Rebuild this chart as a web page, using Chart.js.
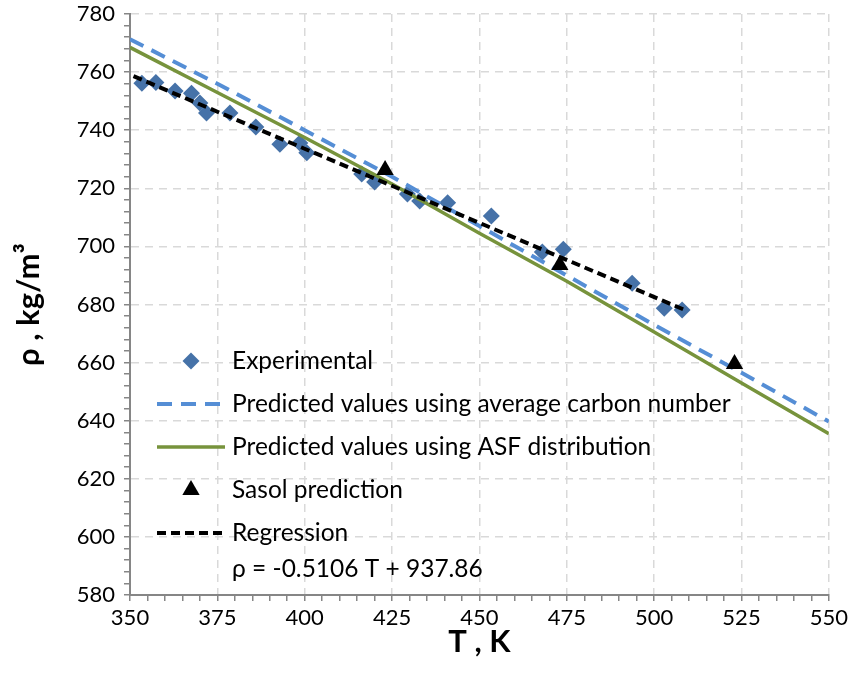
<!DOCTYPE html>
<html>
<head>
<meta charset="utf-8">
<script src="https://cdn.jsdelivr.net/npm/chart.js@4.4.1/dist/chart.umd.min.js"></script>
<style>
  html, body { margin: 0; padding: 0; background: #fff; }
  #wrap { width: 852px; height: 687px; }
</style>
</head>
<body>
<div id="wrap"><canvas id="densityChart" width="852" height="687"></canvas></div>
<script>
// experimental density points (T in K, rho in kg/m3)
const expT = [353.4, 357.4, 362.9, 367.6, 370.0, 371.9, 378.6, 386.0, 392.9, 398.6, 400.6,
              416.3, 420.0, 429.4, 432.9, 440.9, 453.4, 468.0, 474.0, 493.7, 502.9, 508.0];
const expRho = [756.2, 756.4, 753.5, 752.7, 749.4, 745.9, 745.9, 741.1, 735.2, 735.6, 732.2,
                724.9, 722.2, 718.0, 715.6, 715.0, 710.5, 698.1, 699.0, 687.3, 678.7, 678.1];

// predicted curves
const predT = [350, 375, 400, 425, 450, 475, 500, 525, 550];
const predAvgCarbon = [771.3, 756.0, 740.0, 724.0, 707.0, 690.0, 673.0, 656.5, 639.7];
const predASF = [768.5, 753.0, 737.5, 721.5, 704.5, 688.0, 670.5, 653.0, 635.5];

// Sasol prediction
const sasolT = [423, 473, 523];
const sasolRho = [726.3, 693.6, 659.5];

// regression line end points
const regT = [351, 509];
const regRho = [758.6, 678.0];

const legendLabels = [
  "Experimental",
  "Predicted values using average carbon number",
  "Predicted values using ASF distribution",
  "Sasol prediction",
  "Regression"
];
const regressionText = "\u03c1 = -0.5106 T + 937.86";

const FONT = "Lato, 'Open Sans', sans-serif";

function toPoints(xs, ys) {
  return xs.map((x, i) => ({ x: x, y: ys[i] }));
}

// legend drawn inside the plot area, like the original
const insideLegend = {
  id: "insideLegend",
  afterDraw(chart) {
    const ctx = chart.ctx;
    const rows = [361, 404, 447, 490, 533];
    const x0 = 157, x1 = 225, tx = 232;
    ctx.save();
    chart.data.datasets.forEach((ds, i) => {
      const y = rows[i];
      if (ds.showLine) {
        ctx.strokeStyle = ds.borderColor;
        ctx.lineWidth = ds.borderWidth;
        ctx.setLineDash(ds.borderDash || []);
        ctx.beginPath();
        ctx.moveTo(x0, y);
        ctx.lineTo(x1, y);
        ctx.stroke();
        ctx.setLineDash([]);
      } else {
        ctx.fillStyle = ds.backgroundColor;
        ctx.strokeStyle = ds.backgroundColor;
        Chart.helpers.drawPoint(ctx, {
          pointStyle: ds.pointStyle, radius: ds.pointRadius, rotation: 0, borderWidth: 0
        }, (x0 + x1) / 2, y);
      }
      ctx.fillStyle = "#000";
      ctx.font = "24.5px " + FONT;
      ctx.textBaseline = "middle";
      ctx.textAlign = "left";
      ctx.fillText(ds.label, tx, y);
    });
    ctx.fillText(regressionText, tx, 569);
    ctx.restore();
  }
};

const isMajor = (v, step) => Math.round(v) % step === 0;

const chart = new Chart(document.getElementById("densityChart"), {
  type: "scatter",
  data: {
    datasets: [
      {
        label: legendLabels[0],
        data: toPoints(expT, expRho),
        pointStyle: "rectRot",
        pointRadius: 8.5,
        backgroundColor: "#4672A8",
        borderColor: "#4672A8",
        borderWidth: 0,
        showLine: false,
        order: 5
      },
      {
        label: legendLabels[1],
        data: toPoints(predT, predAvgCarbon),
        showLine: true,
        borderColor: "#558ED5",
        borderWidth: 4,
        borderDash: [15, 9],
        pointRadius: 0,
        order: 4
      },
      {
        label: legendLabels[2],
        data: toPoints(predT, predASF),
        showLine: true,
        borderColor: "#77933C",
        borderWidth: 3.5,
        pointRadius: 0,
        order: 3
      },
      {
        label: legendLabels[3],
        data: toPoints(sasolT, sasolRho),
        pointStyle: "triangle",
        pointRadius: 10,
        backgroundColor: "#000",
        borderColor: "#000",
        borderWidth: 0,
        showLine: false,
        order: 2
      },
      {
        label: legendLabels[4],
        data: toPoints(regT, regRho),
        showLine: true,
        borderColor: "#000",
        borderWidth: 4,
        borderDash: [9, 5],
        pointRadius: 0,
        order: 1
      }
    ]
  },
  options: {
    responsive: false,
    animation: false,
    layout: { padding: { top: 14, right: 23, left: 0, bottom: 0 } },
    plugins: {
      legend: { display: false },
      tooltip: { enabled: false }
    },
    scales: {
      x: {
        type: "linear",
        min: 350,
        max: 550,
        ticks: {
          stepSize: 5,
          autoSkip: false,
          maxRotation: 0,
          color: "#000",
          font: { family: FONT, size: 22 },
          padding: 4,
          callback: (v) => (isMajor(v, 25) ? v : "")
        },
        grid: {
          color: (c) => (c.tick && isMajor(c.tick.value, 25) ? "#D9D9D9" : "rgba(0,0,0,0)"),
          lineWidth: 1.5,
          tickColor: "#868686",
          tickLength: 6,
          tickWidth: 1.5
        },
        border: { color: "#868686", width: 2, dash: [8, 6] },
        title: {
          display: true,
          text: "T , K",
          color: "#000",
          font: { family: FONT, size: 31, weight: "bold" },
          padding: { top: 0, bottom: 26 }
        },
        afterFit: (s) => { s.height = 92; }
      },
      y: {
        type: "linear",
        min: 580,
        max: 780,
        ticks: {
          stepSize: 4,
          autoSkip: false,
          color: "#000",
          font: { family: FONT, size: 22 },
          padding: 9,
          callback: (v) => (isMajor(v, 20) ? v : "")
        },
        grid: {
          color: (c) => (c.tick && isMajor(c.tick.value, 20) ? "#D9D9D9" : "rgba(0,0,0,0)"),
          lineWidth: 1.5,
          tickColor: "#868686",
          tickLength: 6,
          tickWidth: 1.5
        },
        border: { color: "#868686", width: 2, dash: [8, 6] },
        title: {
          display: true,
          text: "\u03c1 , kg/m\u00b3",
          color: "#000",
          font: { family: FONT, size: 31, weight: "bold" },
          padding: { top: 10, bottom: 0 }
        },
        afterFit: (s) => { s.width = 130; s.paddingTop = 0; }
      }
    }
  },
  plugins: [insideLegend]
});
</script>
</body>
</html>
